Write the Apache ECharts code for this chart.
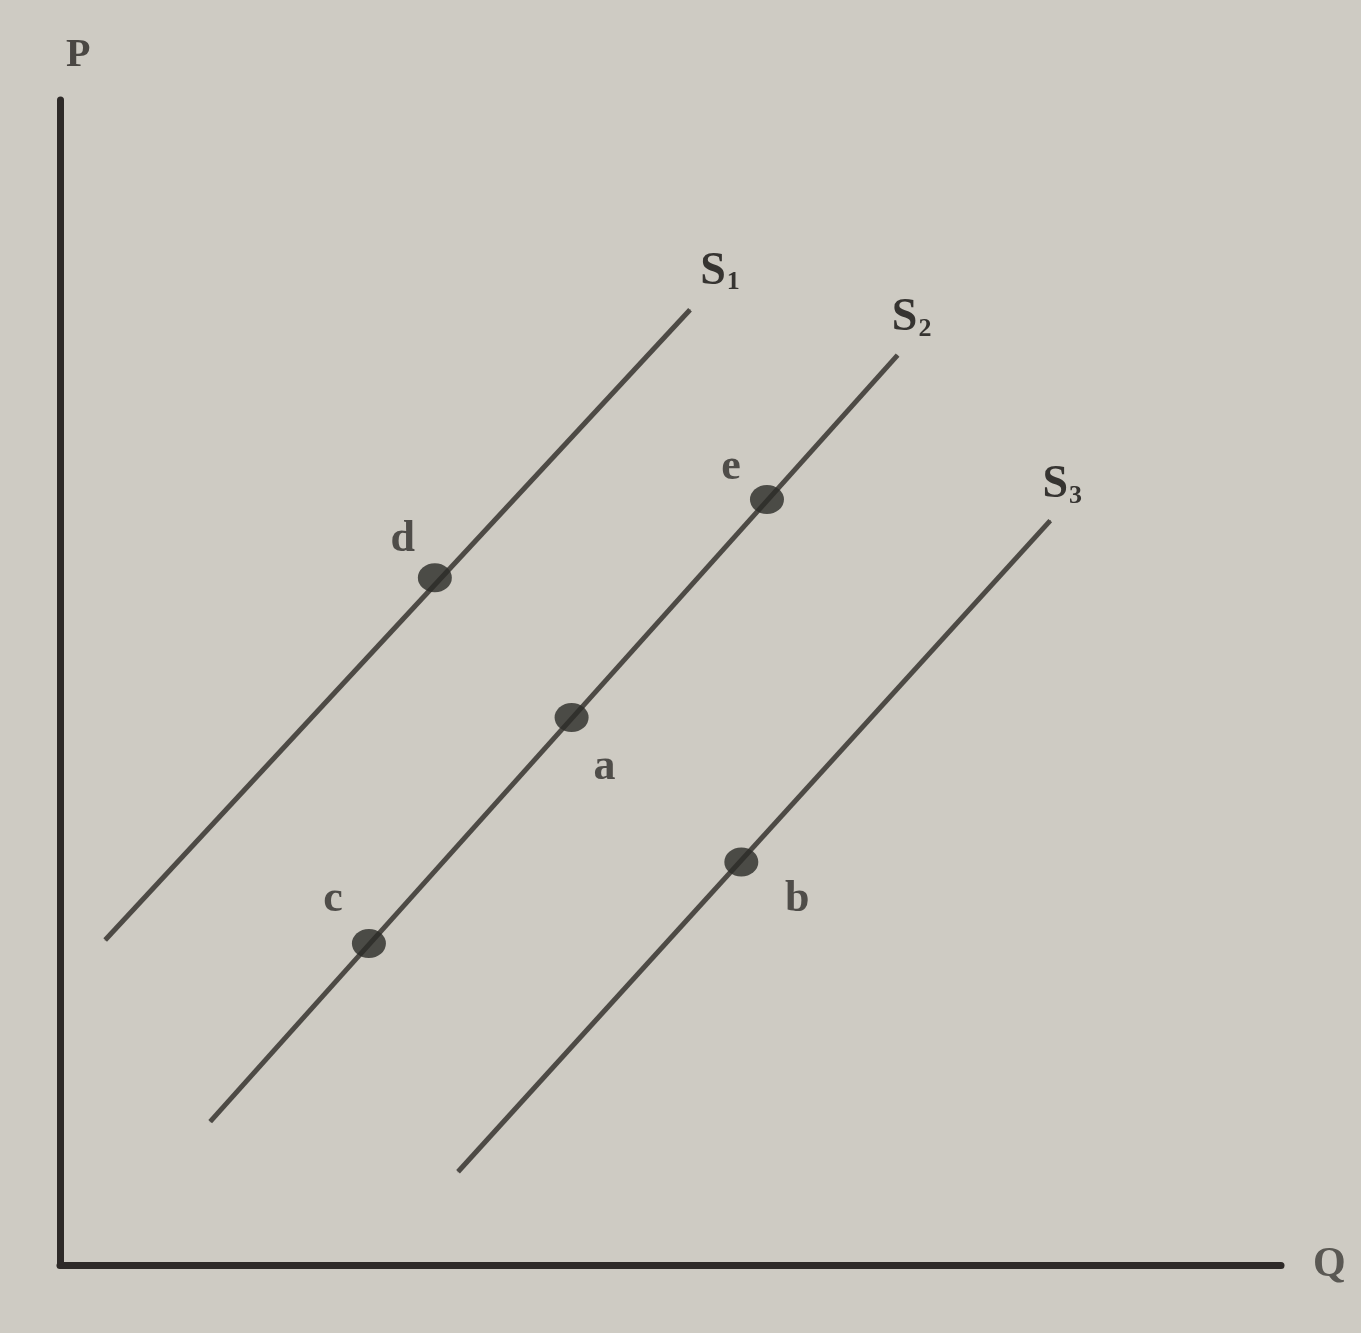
<!DOCTYPE html>
<html>
<head>
<meta charset="utf-8">
<script src="https://cdn.jsdelivr.net/npm/echarts@6/dist/echarts.min.js"></script>
<style>
html,body{margin:0;padding:0;background:#cecbc3;}
#chart{width:1361px;height:1333px;}
</style>
</head>
<body>
<div id="chart"></div>
<script>
// Supply curves: name, start (Q,P) and end (Q,P)
const curveNames = ['S1', 'S2', 'S3'];
const curveStartQ = [3.7, 12.3, 32.6];
const curveStartP = [27.9, 12.3, 8.0];
const curveEndQ = [51.6, 68.6, 81.1];
const curveEndP = [82.0, 78.1, 63.9];

// Labelled points
const pointNames = ['d', 'e', 'a', 'c', 'b'];
const pointQ = [30.7, 57.9, 41.9, 25.3, 55.8];
const pointP = [59.0, 65.7, 47.0, 27.6, 34.6];

// Axis titles
const xAxisTitle = 'Q';
const yAxisTitle = 'P';

const font = "'Liberation Serif', 'DejaVu Serif', serif";
const curveLabelOffset = {S1: [30, -38], S2: [14, -37], S3: [12, -35]};
const pointLabelOffset = {d: [-32, -38], e: [-36, -32], a: [33, 50], c: [-36, -44], b: [56, 38]};

const lineSeries = curveNames.map((name, i) => ({
  type: 'line',
  name: name,
  symbol: 'circle',
  symbolSize: 1,
  lineStyle: {color: '#4d4a45', width: 5},
  itemStyle: {color: '#4d4a45'},
  z: 2,
  data: [
    {value: [curveStartQ[i], curveStartP[i]], label: {show: false}},
    {
      value: [curveEndQ[i], curveEndP[i]],
      label: {
        show: true,
        position: 'inside',
        offset: curveLabelOffset[name],
        formatter: '{m|' + name.charAt(0) + '}{s|' + name.slice(1) + '}',
        rich: {
          m: {fontFamily: font, fontWeight: 'bold', fontSize: 46, color: '#363431'},
          s: {fontFamily: font, fontWeight: 'bold', fontSize: 26, color: '#363431', padding: [22, 0, 0, 1]}
        }
      }
    }
  ]
}));

const pointSeries = {
  type: 'scatter',
  symbol: 'circle',
  symbolSize: [34, 29],
  itemStyle: {color: '#2b2a27'},
  z: 5,
  data: pointNames.map((n, i) => ({
    value: [pointQ[i], pointP[i]],
    label: {
      show: true,
      position: 'inside',
      offset: pointLabelOffset[n],
      formatter: n,
      fontFamily: font,
      fontWeight: 'bold',
      fontSize: 44,
      color: '#2f2d2a'
    }
  }))
};

const chart = echarts.init(document.getElementById('chart'));
chart.setOption({
  backgroundColor: '#cecbc3',
  animation: false,
  grid: {left: 60, top: 100, right: 80, bottom: 68},
  xAxis: {
    type: 'value', min: 0, max: 100,
    name: xAxisTitle, nameLocation: 'end', nameGap: 32,
    nameTextStyle: {fontFamily: font, fontWeight: 'bold', fontSize: 42, color: '#5a5853', verticalAlign: 'middle'},
    axisLine: {show: true, lineStyle: {color: '#2e2a28', width: 7}},
    axisTick: {show: false}, axisLabel: {show: false}, splitLine: {show: false}
  },
  yAxis: {
    type: 'value', min: 0, max: 100,
    name: yAxisTitle, nameLocation: 'end', nameGap: 24,
    nameTextStyle: {fontFamily: font, fontWeight: 'bold', fontSize: 40, color: '#4a4743', align: 'left', padding: [0, 0, 0, 6]},
    axisLine: {show: true, lineStyle: {color: '#2e2a28', width: 7}},
    axisTick: {show: false}, axisLabel: {show: false}, splitLine: {show: false}
  },
  series: lineSeries.concat([pointSeries])
});
</script>
</body>
</html>
